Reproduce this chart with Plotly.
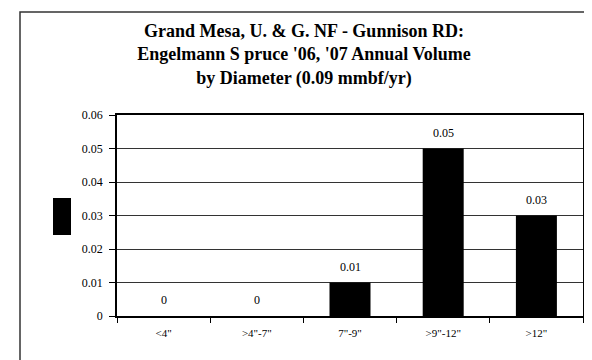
import plotly.graph_objects as go

categories = ['<4"', '>4"-7"', '7"-9"', '>9"-12"', '>12"']
volume = [0, 0, 0.01, 0.05, 0.03]
value_labels = ["0", "0", "0.01", "0.05", "0.03"]
title_lines = ["Grand Mesa, U. & G. NF - Gunnison RD:",
               "Engelmann S pruce '06, '07 Annual Volume",
               "by Diameter (0.09 mmbf/yr)"]

FONT = "Liberation Serif, Times New Roman, serif"

fig = go.Figure(go.Bar(
    x=categories, y=volume,
    marker=dict(color="black", line=dict(width=0)),
    width=0.44, showlegend=False, hoverinfo="x+y",
))

for c, v, t in zip(categories, volume, value_labels):
    fig.add_annotation(x=c, y=v, text=t, showarrow=False, yanchor="bottom",
                       yshift=7, font=dict(family=FONT, size=12, color="black"))

fig.update_layout(
    width=592, height=360,
    margin=dict(l=109, r=17, t=107, b=52),
    paper_bgcolor="white", plot_bgcolor="white",
    font=dict(family=FONT, size=11, color="black"),
    title=dict(text="<b>" + "<br>".join(title_lines) + "</b>",
               x=0.5, xref="container", xanchor="center",
               y=1 - 29/360, yref="container", yanchor="top",
               font=dict(family=FONT, size=18, color="black")),
    xaxis=dict(type="category", tickson="boundaries", ticks="outside", ticklen=5,
               tickcolor="black", showline=True, linecolor="black", linewidth=1.5,
               mirror=True, showgrid=False, tickfont=dict(size=11),
               ticklabelstandoff=6),
    yaxis=dict(range=[0, 0.06], dtick=0.01, ticks="outside", ticklen=6,
               tickcolor="black", showline=True, linecolor="black", linewidth=1.5,
               mirror=True, showgrid=True, gridcolor="#333333", gridwidth=1,
               zeroline=False, tickfont=dict(size=12), ticklabelstandoff=4),
    shapes=[
        dict(type="rect", xref="paper", yref="paper",
             x0=(12-109)/466, x1=(590-109)/466, y0=(308-356)/201, y1=(308-4)/201,
             line=dict(color="#333333", width=1.5), fillcolor="rgba(0,0,0,0)", layer="below"),
        dict(type="rect", xref="paper", yref="paper",
             x0=(45-109)/466, x1=(63-109)/466, y0=(308-227)/201, y1=(308-190)/201,
             line=dict(width=0), fillcolor="black"),
    ],
)

fig.write_html("out.html")
